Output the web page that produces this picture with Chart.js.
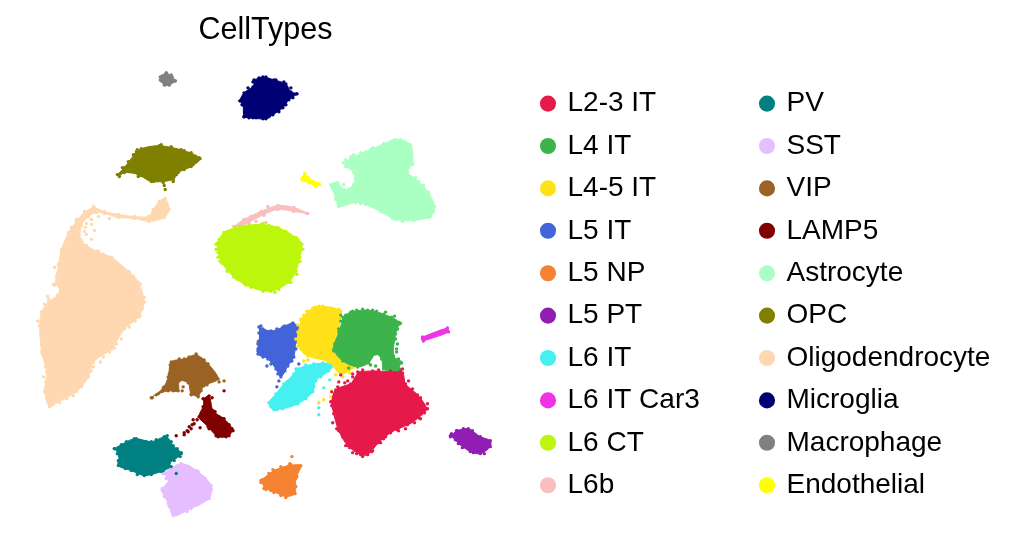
<!DOCTYPE html>
<html><head><meta charset="utf-8">
<style>html,body{margin:0;padding:0;background:#fff}canvas{display:block}</style>
<script src="https://cdn.jsdelivr.net/npm/chart.js@4"></script>
</head><body><canvas id="c" width="1021" height="554"></canvas>
<script>
const categories=["L2-3 IT","L4 IT","L4-5 IT","L5 IT","L5 NP","L5 PT","L6 IT","L6 IT Car3","L6 CT","L6b","PV","SST","VIP","LAMP5","Astrocyte","OPC","Oligodendrocyte","Microglia","Macrophage","Endothelial"];
const colors=["#e6194b","#3cb44b","#ffe119","#4363d8","#f58231","#911eb4","#46f0f0","#f032e6","#bcf60c","#fabebe","#008080","#e6beff","#9a6324","#800000","#aaffc3","#808000","#ffd8b1","#000075","#808080","#ffff00"];
// embedding coordinates: cluster boundary, then loose cells
const L23IT=[[357,373],[372,372],[390,373],[402,374],[405,385],[417,396],[426,410],[418,419],[407,426],[390,434],[378,444],[367,456],[360,456],[347,447],[338,432],[333,415],[331,403],[335,391],[350,385]];
const L23ITx=[[340,376],[347,382],[338,383],[332,424],[330,403],[331,393],[414,424],[409,424],[405,430],[402,370],[352,378],[427,405],[424,414],[336,430],[345,447],[352,454],[371,453],[383,440],[397,431],[352,375],[362,371],[378,371],[390,372],[400,372],[408,382],[412,390],[420,399],[427,410],[420,420],[411,423],[398,432],[385,438],[380,444],[372,452],[362,458],[356,455],[349,449],[342,438],[337,425],[334,412],[331,407],[334,395],[337,388],[344,384]];
const L4IT=[[342,318],[350,313],[367,311],[383,315],[398,323],[395,335],[393,357],[400,363],[395,373],[383,370],[381,360],[375,355],[368,364],[357,368],[342,362],[333,350],[338,333]];
const L4ITx=[[399,370],[348,369],[340,316],[356,311],[376,312],[391,318],[399,325],[397,345],[396,353],[345,316],[352,312],[362,310],[372,311],[385,313],[394,317],[400,324],[397,330],[395,340],[396,350],[398,360],[401,364],[397,372],[388,372],[334,345],[333,352],[338,330],[340,322],[375,367],[370,366],[384,366]];
const L45IT=[[300,320],[308,312],[318,307],[340,312],[338,327],[333,350],[342,362],[353,368],[340,375],[328,363],[307,357],[297,347],[297,333]];
const L45ITx=[[318,404],[323,401],[330,398],[331,392],[300,321],[337,368],[349,374],[333,310],[338,310],[312,309],[344,372],[303,362],[307,361],[335,376],[342,378],[303,316],[306,312],[314,308],[322,307],[330,309],[338,312],[297,326],[295,340],[298,345],[304,354]];
const L5IT=[[258,328],[270,332],[282,328],[292,324],[299,330],[295,343],[293,358],[287,367],[280,378],[275,370],[267,360],[257,355],[258,342]];
const L5ITx=[[292,324],[266,367],[278,382],[276,388],[303,349],[298,365],[260,327],[258,334],[257,350],[262,330],[268,333],[276,330],[284,327],[257,345],[257,352],[262,358],[270,365],[277,375],[284,372],[291,362],[295,350],[298,338]];
const L5NP=[[260,482],[273,472],[288,467],[300,467],[295,480],[294,495],[285,498],[270,492],[263,490]];
const L5NPx=[[291,458],[289,465],[257,343],[260,484],[285,499],[299,468],[262,481],[268,475],[272,471],[280,468],[290,466],[297,470],[296,478],[295,488],[294,495],[280,497],[273,494],[265,491]];
const L5PT=[[450,437],[457,432],[468,430],[480,438],[490,442],[490,448],[480,455],[470,453],[458,445]];
const L5PTx=[[451,435],[450,438],[455,441],[473,454],[484,455],[456,432],[463,430],[472,432],[482,440],[488,444],[470,452],[462,449]];
const L6IT=[[295,370],[313,365],[333,365],[328,372],[315,382],[312,393],[297,405],[273,411],[268,404],[275,395],[283,385],[293,375]];
const L6ITx=[[318,409],[318,416],[323,389],[329,381],[315,373],[270,408],[276,411],[272,402],[278,394],[286,383],[297,370],[305,366],[322,364],[330,368],[320,378],[313,388],[305,400],[290,407],[282,410]];
const L6ITCar3=[[422,338],[447,329],[448,333],[423,342]];
const L6ITCar3x=[[422,340],[428,338],[434,336],[440,333],[446,331]];
const L6CT=[[215,245],[223,233],[240,227],[260,225],[277,228],[295,238],[301,245],[299,258],[295,272],[288,283],[270,292],[250,288],[233,278],[221,264],[217,253]];
const L6CTx=[[262,224],[300,244],[216,244],[217,258],[293,240],[297,262],[270,291],[274,293],[243,284],[218,240],[226,232],[234,228],[248,225],[268,226],[285,232],[297,240],[302,250],[299,262],[296,275],[290,283],[278,290],[262,292],[245,286],[236,280],[226,272],[219,262],[215,250]];
const L6b=[[233,227],[243,220],[260,212],[277,206],[293,208],[307,214],[293,212],[277,210],[263,215],[248,223],[238,228]];
const L6bx=[[267,207],[250,217],[243,221],[233,227],[234,233],[263,216],[265,223],[255,222],[306,214]];
const PV=[[113,450],[133,440],[150,443],[165,438],[172,447],[180,455],[168,465],[170,468],[160,473],[143,477],[130,472],[117,467],[118,457]];
const PVx=[[179,458],[175,475],[180,454],[113,450],[120,446],[166,437],[117,449],[125,443],[135,440],[145,443],[155,441],[163,438],[170,443],[176,450],[173,462],[162,472],[150,476],[136,476],[124,470],[117,462],[116,455]];
const SST=[[162,475],[180,465],[197,473],[210,487],[208,500],[190,510],[172,517],[167,505],[161,492],[168,482]];
const SSTx=[[163,474],[171,480],[176,516],[183,512],[210,492],[165,480],[172,472],[180,466],[188,468],[196,472],[204,480],[210,490],[205,500],[197,506],[186,513],[174,516],[168,508],[163,498],[161,490]];
const VIP=[[150,399],[162,389],[167,378],[170,363],[183,360],[195,356],[207,365],[217,380],[203,387],[197,397],[190,395],[187,384],[178,382],[177,392],[167,392],[157,395]];
const VIPx=[[223,382],[197,398],[218,383],[151,399],[155,396],[212,375],[200,360],[163,388],[168,375],[169,366],[178,360],[188,358],[195,355],[203,361],[209,370],[215,378],[206,386],[200,392],[190,396],[181,392],[172,392],[182,388]];
const LAMP5=[[202,400],[208,397],[212,412],[223,420],[231,430],[228,437],[217,438],[207,428],[198,418],[202,408]];
const LAMP5x=[[223,392],[211,399],[175,437],[192,421],[199,429],[183,436],[186,432],[188,428],[191,426],[187,433],[193,425],[196,421],[183,434],[190,430],[205,402],[206,410],[214,413],[222,420],[228,426],[232,432],[225,438],[215,437],[208,430],[200,420]];
const Astrocyte=[[343,163],[353,157],[370,150],[395,140],[410,145],[412,163],[407,172],[418,182],[428,193],[434,207],[430,217],[413,221],[395,220],[380,212],[365,205],[355,203],[338,207],[335,198],[330,185],[337,183],[343,190],[353,185],[353,173],[345,167]];
const Astrocytex=[[343,185],[338,205],[412,165],[433,206],[395,141],[353,155],[400,140],[365,152],[343,163],[331,186],[345,160],[350,157],[360,153],[372,148],[383,144],[392,141],[404,142],[410,150],[411,160],[408,168],[415,178],[423,186],[428,195],[432,203],[433,212],[428,218],[415,220],[402,222],[392,219],[383,213],[372,207],[360,204],[348,202],[340,206],[335,200]];
const OPC=[[116,175],[123,168],[133,155],[140,149],[158,146],[183,151],[199,159],[190,167],[177,173],[172,180],[150,182],[137,175],[123,173],[118,177]];
const OPCx=[[164,190],[162,183],[152,182],[143,177],[137,177],[170,178],[175,175],[135,152],[163,186],[157,180],[165,180],[172,182],[148,180],[121,168],[127,162],[132,155],[136,150],[148,148],[160,145],[170,147],[180,150],[190,153],[198,158],[192,165],[183,170],[175,175],[128,172],[140,176]];
const Oligodendrocyte=[[92,207],[103,212],[117,215],[133,217],[147,217],[152,210],[158,202],[164,199],[168,210],[163,218],[148,222],[133,219],[117,218],[103,214],[95,213],[87,217],[80,226],[79,240],[85,246],[95,252],[110,258],[127,272],[137,283],[143,303],[137,318],[123,330],[110,350],[92,363],[87,378],[75,393],[57,403],[48,408],[43,393],[45,373],[40,353],[38,327],[40,313],[47,303],[56,296],[58,288],[54,285],[57,265],[60,250],[67,233],[75,222],[83,212]];
const Oligodendrocytex=[[46,297],[43,305],[40,313],[38,327],[42,340],[41,356],[44,368],[44,383],[43,393],[58,404],[72,397],[87,377],[92,368],[99,363],[102,358],[108,353],[113,349],[120,340],[134,322],[139,317],[142,303],[134,280],[128,273],[120,268],[111,259],[97,252],[93,231],[97,217],[108,219],[85,224],[90,220],[57,265],[55,277],[53,286],[60,253],[65,245],[83,232],[90,240],[80,242],[84,228],[90,225],[85,235],[70,228],[75,220],[62,250],[70,235],[53,268],[52,285],[47,300],[36,322],[40,345],[42,378],[50,405],[65,400],[80,388],[90,372],[115,345],[128,328],[141,310],[143,298],[139,285],[132,277],[115,263],[102,255],[47,312],[43,322],[52,302]];
const Microglia=[[253,80],[262,77],[273,80],[285,84],[290,92],[296,94],[288,100],[282,108],[272,115],[265,119],[248,118],[243,117],[242,105],[239,101],[243,93],[252,87]];
const Microgliax=[[239,101],[296,94],[243,117],[262,119],[255,118],[247,88],[252,82],[258,78],[265,77],[275,80],[283,82],[290,88],[292,98],[285,105],[278,112],[268,117],[252,118],[244,112],[241,105]];
const Macrophage=[[159,77],[165,73],[171,77],[174,81],[168,85],[163,85],[159,80]];
const Macrophagex=[[174,81],[172,81],[161,76],[165,73],[170,75],[160,81],[164,85],[168,85]];
const Endothelial=[[304,174],[301,180],[308,183],[315,187],[317,184],[307,178]];
const Endothelialx=[[304,174],[302,178],[303,181],[306,181],[309,182],[312,184],[315,187],[319,185]];
const outlines=[L23IT,L4IT,L45IT,L5IT,L5NP,L5PT,L6IT,L6ITCar3,L6CT,L6b,PV,SST,VIP,LAMP5,Astrocyte,OPC,Oligodendrocyte,Microglia,Macrophage,Endothelial];
const loose=[L23ITx,L4ITx,L45ITx,L5ITx,L5NPx,L5PTx,L6ITx,L6ITCar3x,L6CTx,L6bx,PVx,SSTx,VIPx,LAMP5x,Astrocytex,OPCx,Oligodendrocytex,Microgliax,Macrophagex,Endothelialx];
const pts=a=>a.map(p=>({x:p[0],y:p[1]}));
const base=(i)=>({borderColor:colors[i],backgroundColor:colors[i],pointBackgroundColor:colors[i],pointBorderWidth:0,pointRadius:1.7,pointHoverRadius:1.7,pointStyle:'circle',order:i});
const datasets=[
 ...categories.map((c,i)=>({...base(i),label:c,data:pts(outlines[i]),showLine:true,fill:'shape',borderWidth:1,tension:0.3})),
 ...categories.map((c,i)=>({...base(i),label:c+" cells",data:pts(loose[i]),showLine:false}))
];
const placeText={id:'placeText',
 beforeLayout(chart){const lg=chart.legend;if(lg&&!lg._w){lg._w=1;const fit=lg.fit;lg.fit=function(){this.maxHeight=Math.min(this.maxHeight,470);fit.call(this);this.width=431;};}},
 afterLayout(chart){const lg=chart.legend;lg.left=528.1;lg.right=1021;lg.top=75.2;lg.bottom=530;
  if(lg.columnSizes&&lg.columnSizes[0])lg.columnSizes[0].width=204.6;
  const t=chart.titleBlock;t.left=0;t.right=531;}
};
new Chart(document.getElementById('c'),{type:'scatter',data:{datasets},plugins:[placeText],options:{
 responsive:false,animation:false,events:[],
 layout:{padding:0},
 scales:{x:{type:'linear',display:false,min:0,max:590},y:{type:'linear',display:false,min:51,max:554,reverse:true}},
 plugins:{tooltip:{enabled:false},
  title:{display:true,text:'CellTypes',color:'#000',font:{family:'"Liberation Sans"',size:30.5,weight:'normal'},padding:{top:12,bottom:2.4}},
  legend:{position:'right',align:'start',labels:{usePointStyle:true,boxWidth:11,boxHeight:11.4,padding:14.4,color:'#000',font:{family:'"Liberation Sans"',size:28},filter:it=>it.datasetIndex<20}}
 }}});
</script></body></html>
